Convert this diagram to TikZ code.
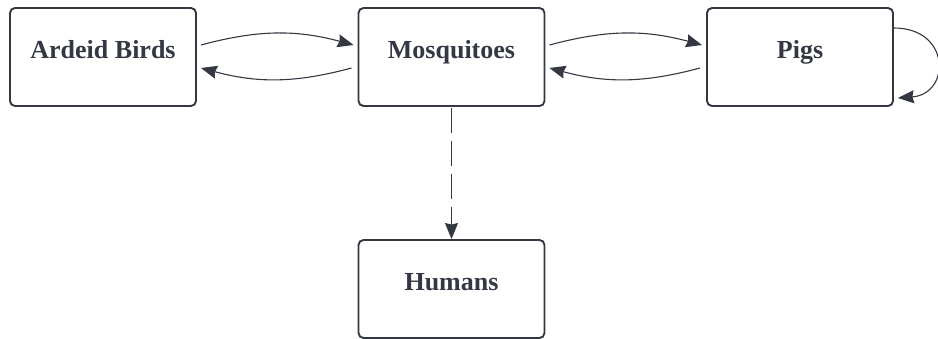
\documentclass[tikz,border=0pt]{standalone}
\usepackage{fontspec}
\setmainfont{Liberation Serif}
\usetikzlibrary{arrows.meta}
\definecolor{ink}{RGB}{51,56,66}
\begin{document}
\begin{tikzpicture}[x=1pt,y=1pt,
  box/.style={draw=ink, line width=1.9pt, rounded corners=5pt,
    minimum width=186pt, minimum height=98pt, text=ink,
    font=\fontsize{26}{31}\selectfont\bfseries,
    text height=17pt, text depth=15pt, inner sep=0pt, fill=white},
  link/.style={draw=ink, line width=1.1pt,
    -{Stealth[length=16pt,width=13pt,inset=1.5pt]}}
]
\useasboundingbox (0,0) rectangle (938,-338);
\node[box] (birds)  at (103,-57)    {Ardeid Birds};
\node[box] (mosq)   at (451.5,-57)  {Mosquitoes};
\node[box] (pigs)   at (800,-57)    {Pigs};
\node[box] (humans) at (451.5,-289) {Humans};

\draw[link] ([shift={(4,12)}]birds.east) to[out=15,in=165] ([shift={(-4,12)}]mosq.west);
\draw[link] ([shift={(-6,-11)}]mosq.west) to[out=195,in=-15] ([shift={(4,-11)}]birds.east);
\draw[link] ([shift={(4,12)}]mosq.east) to[out=15,in=165] ([shift={(-4,12)}]pigs.west);
\draw[link] ([shift={(-6,-11)}]pigs.west) to[out=195,in=-15] ([shift={(4,-11)}]mosq.east);
\draw[link] ([yshift=29]pigs.east) .. controls +(57,0) and +(53,4) .. ([shift={(4,-41)}]pigs.east);
\draw[link, dash pattern=on 25pt off 8pt] ([yshift=-1]mosq.south) -- (humans.north);
\end{tikzpicture}
\end{document}
